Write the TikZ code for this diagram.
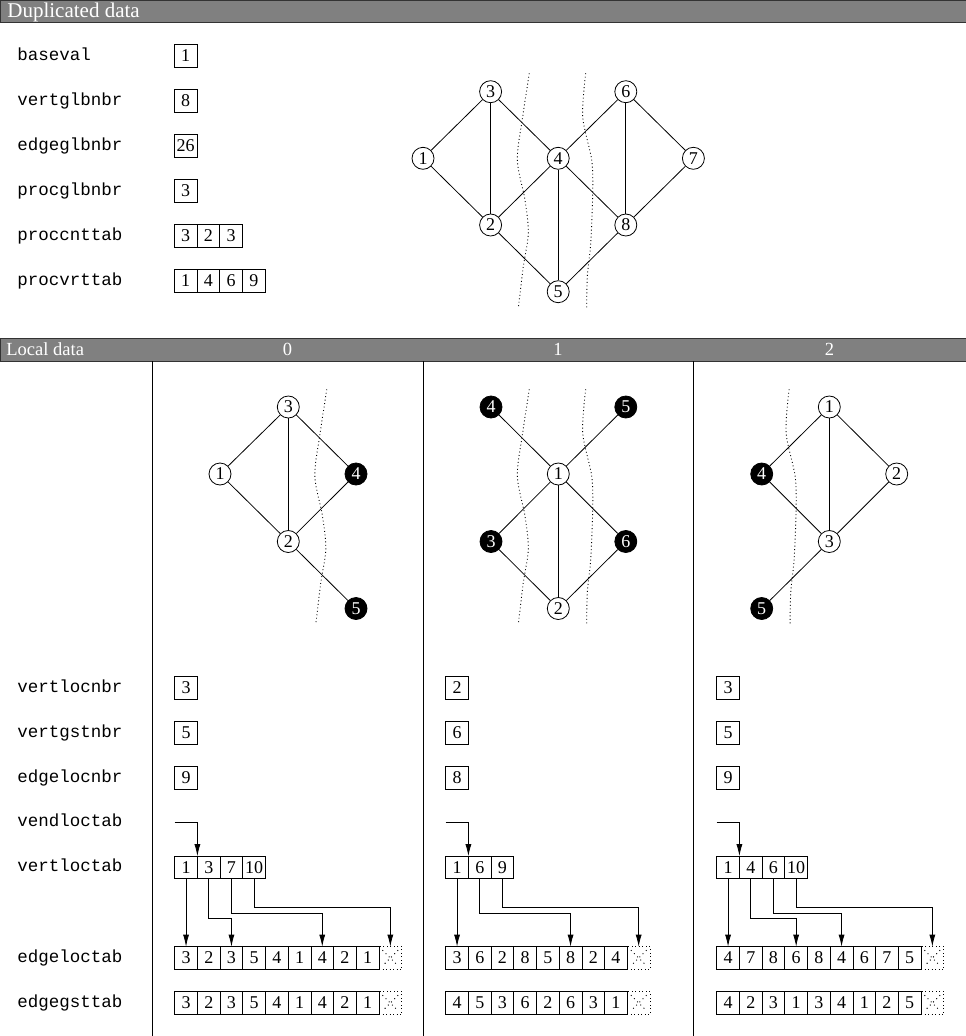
\documentclass[tikz,border=0pt]{standalone}
\usepackage{fontspec}
\setmainfont{Liberation Serif}
\setmonofont{Liberation Mono}
\usetikzlibrary{arrows.meta,positioning}

\newcommand{\numfont}{\fontsize{18}{20}\selectfont}
\newcommand{\fieldfont}{\fontsize{17.5}{20}\selectfont\ttfamily}
% one row of array cells: name prefix, left x, centre y, values
\newcommand{\cellrow}[4]{%
  \foreach \v [count=\i] in {#4}
    \node[cell] (#1\i) at ({#2+(\i-0.5)*22.7}, #3) {\v};%
}

\begin{document}
\begin{tikzpicture}[x=1pt, y=-1pt, line width=0.8pt,
  bar/.style={fill=black!50, draw=black!80, line width=1pt},
  bartext/.style={text=white, inner sep=0pt, anchor=base},
  field/.style={font=\fieldfont, anchor=west, inner sep=0pt, text height=11pt, text depth=3pt},
  cell/.style={draw, minimum width=22.7pt, minimum height=22.7pt, inner sep=0pt, outer sep=0pt, font=\numfont},
  sparse/.style={line width=0.9pt, dash pattern=on 0.9pt off 2.6pt},
  nilcell/.style={cell, sparse, path picture={
    \draw[line width=0.9pt, dash pattern=on 0.9pt off 3.6pt, shorten >=5pt, shorten <=5pt] (path picture bounding box.north west) -- (path picture bounding box.south east);
    \draw[line width=0.9pt, dash pattern=on 0.9pt off 3.6pt, shorten >=5pt, shorten <=5pt] (path picture bounding box.north east) -- (path picture bounding box.south west);}},
  vtx/.style={circle, draw, fill=white, minimum size=22pt, inner sep=0pt, font=\numfont},
  gst/.style={vtx, fill=black, text=white},
  ptr/.style={-{Latex[length=12pt, width=6pt]}},
  cutl/.pic={\draw[sparse] plot[smooth] coordinates {(0,0) (-6.6,43.4) (-12,86.7) (-4.3,126.7) (-1,160) (-6,193.4) (-11,235)};},
  cutr/.pic={\draw[sparse] plot[smooth] coordinates {(0,0) (-3,43.4) (6,86.7) (7,120) (5,170) (1.6,203.4) (1,235)};}
]
\useasboundingbox (0,0) rectangle (966,1036);

% duplicated data
\draw[bar] (0,0.5) rectangle (966,22);
\node[bartext, anchor=base west, font=\fontsize{21}{24}\selectfont] (duphead) at (7,17) {Duplicated data};

\node[field] (baseval) at (17,56) {baseval};
\node[field] (vertglbnbr) at (17,101) {vertglbnbr};
\node[field] (edgeglbnbr) at (17,146) {edgeglbnbr};
\node[field] (procglbnbr) at (17,191) {procglbnbr};
\node[field] (proccnttab) at (17,236) {proccnttab};
\node[field] (procvrttab) at (17,281) {procvrttab};

\node[cell] (bvcell) at (185.7,56) {1};
\node[cell] (vgncell) at (185.7,101) {8};
\node[cell] (egncell) at (185.7,146) {26};
\node[cell] (pgncell) at (185.7,191) {3};
\cellrow{pct}{174.3}{236}{3,2,3}
\cellrow{pvt}{174.3}{281}{1,4,6,9}

\node[vtx] (d1) at (423,158.3) {1};
\node[vtx] (d2) at (490.6,225) {2};
\node[vtx] (d3) at (490.6,91.7) {3};
\node[vtx] (d4) at (558.2,158.3) {4};
\node[vtx] (d5) at (558.2,291.7) {5};
\node[vtx] (d6) at (625.8,91.7) {6};
\node[vtx] (d7) at (693.4,158.3) {7};
\node[vtx] (d8) at (625.8,225) {8};
\foreach \a/\b in {1/3,1/2,3/2,3/4,4/2,4/6,4/5,4/8,6/8,6/7,7/8,2/5,5/8}
  \draw (d\a) -- (d\b);
\pic at (529.3,73.3) {cutl};
\pic at (585.7,73.3) {cutr};

% local data
\draw[bar] (0,338) rectangle (966,361);
\node[bartext, anchor=base west, font=\fontsize{18.5}{22}\selectfont] (lochead) at (6,355.5) {Local data};
\node[bartext, font=\fontsize{18.5}{22}\selectfont] (proc0) at (287.5,355.5) {0};
\node[bartext, font=\fontsize{18.5}{22}\selectfont] (proc1) at (558,355.5) {1};
\node[bartext, font=\fontsize{18.5}{22}\selectfont] (proc2) at (829.5,355.5) {2};
\draw (152,361) -- (152,1036);
\draw (423,361) -- (423,1036);
\draw (693,361) -- (693,1036);

\node[field] (vertlocnbr) at (17,688) {vertlocnbr};
\node[field] (vertgstnbr) at (17,733) {vertgstnbr};
\node[field] (edgelocnbr) at (17,778) {edgelocnbr};
\node[field] (vendloctab) at (17,822.7) {vendloctab};
\node[field] (vertloctab) at (17,867.5) {vertloctab};
\node[field] (edgeloctab) at (17,958) {edgeloctab};
\node[field] (edgegsttab) at (17,1003) {edgegsttab};

% process 0
\node[vtx] (p0v1) at (220,474) {1};
\node[vtx] (p0v2) at (288.3,541.5) {2};
\node[vtx] (p0v3) at (288.3,407) {3};
\node[gst] (p0v4) at (356,474) {4};
\node[gst] (p0v5) at (356,608.5) {5};
\foreach \a/\b in {1/3,1/2,3/2,3/4,4/2,2/5}
  \draw (p0v\a) -- (p0v\b);
\pic at (326.8,389.3) {cutl};

\node[cell] (p0vln) at (186,688) {3};
\node[cell] (p0vgn) at (186,733) {5};
\node[cell] (p0eln) at (186,778) {9};
\cellrow{p0vl}{174.7}{867.5}{1,3,7,10}
\cellrow{p0el}{174.7}{958}{3,2,3,5,4,1,4,2,1}
\node[nilcell, right=0pt of p0el9] (p0elx) {};
\cellrow{p0eg}{174.7}{1003}{3,2,3,5,4,1,4,2,1}
\node[nilcell, right=0pt of p0eg9] (p0egx) {};
\coordinate (p0vend) at (174.7,822.7);
\draw[ptr] (p0vend) -| (p0vl1.north east);
\draw[ptr] (p0vl1.south) -- (p0el1.north);
\draw[ptr] (p0vl2.south) -- ++(0,39.3) -| (p0el3.north);
\draw[ptr] (p0vl3.south) -- ++(0,34.3) -| (p0el7.north);
\draw[ptr] (p0vl4.south) -- ++(0,28.3) -| (p0elx.north);

% process 1
\node[vtx] (p1v1) at (558.3,474) {1};
\node[vtx] (p1v2) at (558.3,608.5) {2};
\node[gst] (p1v3) at (491,541.5) {3};
\node[gst] (p1v4) at (491,407) {4};
\node[gst] (p1v5) at (625.8,407) {5};
\node[gst] (p1v6) at (625.8,541.5) {6};
\foreach \a/\b in {4/1,5/1,1/3,1/6,1/2,3/2,6/2}
  \draw (p1v\a) -- (p1v\b);
\pic at (529.3,389.3) {cutl};
\pic at (585.7,389.3) {cutr};

\node[cell] (p1vln) at (457,688) {2};
\node[cell] (p1vgn) at (457,733) {6};
\node[cell] (p1eln) at (457,778) {8};
\cellrow{p1vl}{445.7}{867.5}{1,6,9}
\cellrow{p1el}{445.7}{958}{3,6,2,8,5,8,2,4}
\node[nilcell, right=0pt of p1el8] (p1elx) {};
\cellrow{p1eg}{445.7}{1003}{4,5,3,6,2,6,3,1}
\node[nilcell, right=0pt of p1eg8] (p1egx) {};
\coordinate (p1vend) at (445.7,822.7);
\draw[ptr] (p1vend) -| (p1vl1.north east);
\draw[ptr] (p1vl1.south) -- (p1el1.north);
\draw[ptr] (p1vl2.south) -- ++(0,34.3) -| (p1el6.north);
\draw[ptr] (p1vl3.south) -- ++(0,28.3) -| (p1elx.north);

% process 2
\node[vtx] (p2v1) at (829.3,407) {1};
\node[vtx] (p2v2) at (896.7,474) {2};
\node[vtx] (p2v3) at (829.3,541.5) {3};
\node[gst] (p2v4) at (761.7,474) {4};
\node[gst] (p2v5) at (761.7,608.5) {5};
\foreach \a/\b in {1/4,1/2,1/3,4/3,2/3,3/5}
  \draw (p2v\a) -- (p2v\b);
\pic at (789.1,389.3) {cutr};

\node[cell] (p2vln) at (728,688) {3};
\node[cell] (p2vgn) at (728,733) {5};
\node[cell] (p2eln) at (728,778) {9};
\cellrow{p2vl}{716.7}{867.5}{1,4,6,10}
\cellrow{p2el}{716.7}{958}{4,7,8,6,8,4,6,7,5}
\node[nilcell, right=0pt of p2el9] (p2elx) {};
\cellrow{p2eg}{716.7}{1003}{4,2,3,1,3,4,1,2,5}
\node[nilcell, right=0pt of p2eg9] (p2egx) {};
\coordinate (p2vend) at (716.7,822.7);
\draw[ptr] (p2vend) -| (p2vl1.north east);
\draw[ptr] (p2vl1.south) -- (p2el1.north);
\draw[ptr] (p2vl2.south) -- ++(0,39.3) -| (p2el4.north);
\draw[ptr] (p2vl3.south) -- ++(0,34.3) -| (p2el6.north);
\draw[ptr] (p2vl4.south) -- ++(0,28.3) -| (p2elx.north);
\end{tikzpicture}
\end{document}
